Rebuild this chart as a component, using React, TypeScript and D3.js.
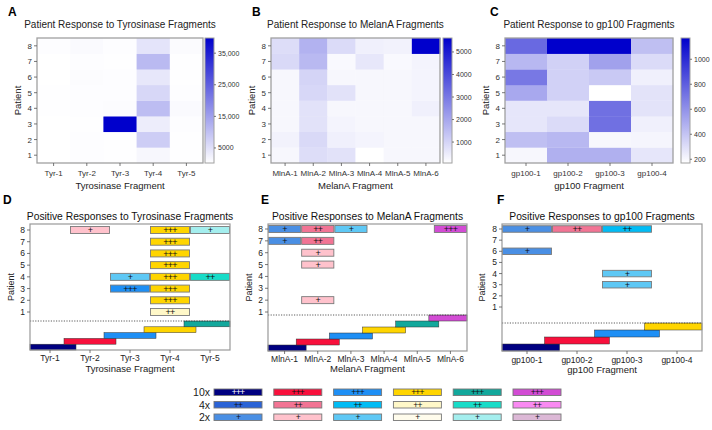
import React from "react";
import * as d3 from "d3";

const FONT = "'Liberation Sans', Arial, Helvetica, sans-serif";

const patients = [1, 2, 3, 4, 5, 6, 7, 8];
const tyrFragments = ["Tyr-1", "Tyr-2", "Tyr-3", "Tyr-4", "Tyr-5"];
const melFragments = ["MlnA-1", "MlnA-2", "MlnA-3", "MlnA-4", "MlnA-5", "MlnA-6"];
const gpFragments = ["gp100-1", "gp100-2", "gp100-3", "gp100-4"];

// Spot counts per patient (rows: patient 1 … 8), one column per fragment
const tyrResponse = [
  [300, 600, 400, 1500, 400],
  [300, 500, 400, 8000, 400],
  [300, 400, 39800, 3000, 500],
  [400, 500, 700, 10500, 1000],
  [400, 600, 500, 6500, 500],
  [300, 700, 500, 4000, 400],
  [300, 600, 400, 11000, 400],
  [500, 1000, 500, 4500, 800],
];
const melResponse = [
  [250, 800, 700, 70, 250, 250],
  [350, 900, 400, 300, 250, 250],
  [250, 700, 300, 250, 250, 250],
  [250, 700, 250, 250, 250, 400],
  [250, 950, 700, 250, 250, 300],
  [250, 1000, 250, 250, 250, 300],
  [900, 1600, 200, 600, 200, 300],
  [800, 1750, 850, 400, 350, 5620],
];
const gpResponse = [
  [200, 480, 480, 270],
  [420, 450, 200, 210],
  [270, 310, 730, 230],
  [270, 270, 730, 280],
  [510, 350, 170, 280],
  [700, 350, 380, 230],
  [450, 350, 540, 310],
  [760, 1170, 1170, 420],
];

const tyrDomain = [240, 39800];
const melDomain = [70, 5620];
const gpDomain = [170, 1170];
const tyrTicks = [5000, 15000, 25000, 35000];
const melTicks = [1000, 2000, 3000, 4000, 5000];
const gpTicks = [200, 400, 600, 800, 1000];

// Positive responses: [patient, fragment index, fold level]
const tyrPositive = [
  [8, 1, 2], [8, 3, 10], [8, 4, 2],
  [7, 3, 10], [6, 3, 10], [5, 3, 10],
  [4, 2, 2], [4, 3, 10], [4, 4, 4],
  [3, 2, 10], [3, 3, 10],
  [2, 3, 10],
  [1, 3, 4],
];
const melPositive = [
  [8, 0, 2], [8, 1, 4], [8, 2, 2], [8, 5, 10],
  [7, 0, 2], [7, 1, 4],
  [6, 1, 2], [5, 1, 2], [2, 1, 2],
];
const gpPositive = [
  [8, 0, 2], [8, 1, 4], [8, 2, 4],
  [6, 0, 2],
  [4, 2, 2], [3, 2, 2],
];

const levels = [10, 4, 2];
const levelLabels = ["10x", "4x", "2x"];
// Colour family per fragment position, shades for 10x / 4x / 2x
const fragmentPalette = [
  ["#000080", "#2b63d6", "#4a8fe4"],
  ["#f8103c", "#f27494", "#ffc2cc"],
  ["#1e8ff5", "#00bcf5", "#5ec8f5"],
  ["#ffd500", "#fff8c8", "#fffcec"],
  ["#12a89c", "#18dcc8", "#a4eeee"],
  ["#d24cd4", "#f98af2", "#dcb8d6"],
];

const plusText = (lvl: number) => (lvl >= 10 ? "+++" : lvl >= 4 ? "++" : "+");
const shade = (frag: number, lvl: number) => fragmentPalette[frag][levels.indexOf(lvl)];

const fmtTick = (v: number) => (v >= 10000 ? d3.format(",")(v) : String(v));

type HeatProps = {
  id: string;
  letter: string;
  letterX: number;
  title: string;
  xTitle: string;
  cats: string[];
  values: number[][];
  domain: number[];
  ticks: number[];
  x0: number;
  x1: number;
  cbX: number;
  yTitleX: number;
};

function Heatmap(p: HeatProps) {
  const y0 = 38;
  const y1 = 163;
  const x = d3.scaleBand<string>().domain(p.cats).range([p.x0, p.x1]);
  const y = d3.scaleBand<number>().domain([...patients].reverse()).range([y0, y1]);
  const color = d3
    .scaleLinear<string>()
    .domain(p.domain)
    .range(["#ffffff", "#0000cc"])
    .clamp(true);
  const cb = d3.scaleLinear().domain(p.domain).range([y1, y0]);
  const cbW = 9;
  const cx = (p.x0 + p.x1) / 2;
  return (
    <g>
      <text x={p.letterX} y={16} fontSize={12} fontWeight="bold" fontFamily={FONT}>
        {p.letter}
      </text>
      <text x={cx} y={28} fontSize={10} textAnchor="middle" fontFamily={FONT} fill="#222">
        {p.title}
      </text>
      {patients.map((pt, ri) =>
        p.cats.map((c, ci) => (
          <rect
            key={c + pt}
            x={x(c)}
            y={y(pt)}
            width={x.bandwidth() + 0.3}
            height={y.bandwidth() + 0.3}
            fill={color(p.values[ri][ci])}
          />
        ))
      )}
      <rect x={p.x0} y={y0} width={p.x1 - p.x0} height={y1 - y0} fill="none" stroke="#a0a0a0" strokeWidth={1.3} />
      {patients.map((pt) => (
        <g key={pt}>
          <line x1={p.x0 - 3} x2={p.x0} y1={y(pt)! + y.bandwidth() / 2} y2={y(pt)! + y.bandwidth() / 2} stroke="#555" strokeWidth={0.8} />
          <text x={p.x0 - 5} y={y(pt)! + y.bandwidth() / 2 + 3} fontSize={8} textAnchor="end" fontFamily={FONT} fill="#333">
            {pt}
          </text>
        </g>
      ))}
      {p.cats.map((c) => (
        <g key={c}>
          <line x1={x(c)! + x.bandwidth() / 2} x2={x(c)! + x.bandwidth() / 2} y1={y1} y2={y1 + 3} stroke="#555" strokeWidth={0.8} />
          <text x={x(c)! + x.bandwidth() / 2} y={176} fontSize={8} textAnchor="middle" fontFamily={FONT} fill="#333">
            {c}
          </text>
        </g>
      ))}
      <text x={cx} y={189} fontSize={9.5} textAnchor="middle" fontFamily={FONT} fill="#222">
        {p.xTitle}
      </text>
      <text
        transform={`translate(${p.yTitleX},${(y0 + y1) / 2}) rotate(-90)`}
        fontSize={9.5}
        textAnchor="middle"
        fontFamily={FONT}
        fill="#222"
      >
        Patient
      </text>
      <defs>
        <linearGradient id={p.id} x1="0" y1="1" x2="0" y2="0">
          <stop offset="0%" stopColor="#ffffff" />
          <stop offset="100%" stopColor="#0000cc" />
        </linearGradient>
      </defs>
      <rect x={p.cbX} y={y0} width={cbW} height={y1 - y0} fill={`url(#${p.id})`} stroke="#a0a0a0" strokeWidth={1} />
      {p.ticks.map((t) => (
        <g key={t}>
          <line x1={p.cbX + cbW} x2={p.cbX + cbW + 2} y1={cb(t)} y2={cb(t)} stroke="#555" strokeWidth={0.8} />
          <text x={p.cbX + cbW + 4} y={cb(t) + 2.5} fontSize={7} fontFamily={FONT} fill="#333">
            {fmtTick(t)}
          </text>
        </g>
      ))}
    </g>
  );
}

type RespProps = {
  letter: string;
  letterX: number;
  title: string;
  xTitle: string;
  cats: string[];
  positives: number[][];
  x0: number;
  x1: number;
  y1: number;
  p1y: number;
  p8y: number;
  step: number;
  barH: number;
  yTitleX: number;
  tickY: number;
  xTitleY: number;
};

function ResponsePanel(p: RespProps) {
  const y0 = 224;
  const x = d3.scaleBand<string>().domain(p.cats).range([p.x0, p.x1]);
  const y = d3.scaleLinear().domain([1, 8]).range([p.p1y, p.p8y]);
  const bw = x.bandwidth();
  const cx = (p.x0 + p.x1) / 2;
  const n = p.cats.length;
  const ladderTop = p.y1 - n * p.step;
  return (
    <g>
      <text x={p.letterX} y={204} fontSize={12} fontWeight="bold" fontFamily={FONT}>
        {p.letter}
      </text>
      <text x={cx} y={220} fontSize={10.3} textAnchor="middle" fontFamily={FONT} fill="#111">
        {p.title}
      </text>
      {p.positives.map(([pt, fi, lvl], i) => (
        <g key={i}>
          <rect
            x={x(p.cats[fi])! + 0.5}
            y={y(pt) - p.barH / 2}
            width={bw - 1}
            height={p.barH}
            fill={shade(fi, lvl)}
            stroke="#7a7a7a"
            strokeWidth={0.9}
          />
          <text
            x={x(p.cats[fi])! + bw / 2}
            y={y(pt) + 3.2}
            fontSize={9}
            letterSpacing={-0.8}
            textAnchor="middle"
            fontFamily={FONT}
            fill={fi === 0 && lvl === 10 ? "#fff" : "#111"}
          >
            {plusText(lvl)}
          </text>
        </g>
      ))}
      {p.cats.map((c, i) => {
        const mid = x(c)! + bw / 2;
        const a = Math.max(p.x0, mid - 0.65 * bw);
        const b = Math.min(p.x1, mid + 0.65 * bw);
        return (
          <rect
            key={c}
            x={a}
            y={p.y1 - (i + 1) * p.step}
            width={b - a}
            height={p.step}
            fill={fragmentPalette[i][0]}
            stroke="#333"
            strokeWidth={0.5}
          />
        );
      })}
      <line x1={p.x0} x2={p.x1} y1={ladderTop} y2={ladderTop} stroke="#333" strokeWidth={0.8} strokeDasharray="1.2,1.4" />
      <rect x={p.x0} y={y0} width={p.x1 - p.x0} height={p.y1 - y0} fill="none" stroke="#999" strokeWidth={1.2} />
      {patients.map((pt) => (
        <g key={pt}>
          <line x1={p.x0 - 3} x2={p.x0} y1={y(pt)} y2={y(pt)} stroke="#555" strokeWidth={0.8} />
          <text x={p.x0 - 5} y={y(pt) + 3} fontSize={8.5} textAnchor="end" fontFamily={FONT} fill="#222">
            {pt}
          </text>
        </g>
      ))}
      {p.cats.map((c) => (
        <g key={c}>
          <line x1={x(c)! + bw / 2} x2={x(c)! + bw / 2} y1={p.y1} y2={p.y1 + 3} stroke="#555" strokeWidth={0.8} />
          <text x={x(c)! + bw / 2} y={p.tickY} fontSize={8.5} textAnchor="middle" fontFamily={FONT} fill="#222">
            {c}
          </text>
        </g>
      ))}
      <text x={cx} y={p.xTitleY} fontSize={9.5} textAnchor="middle" fontFamily={FONT} fill="#222">
        {p.xTitle}
      </text>
      <text
        transform={`translate(${p.yTitleX},${(y0 + p.y1) / 2}) rotate(-90)`}
        fontSize={9}
        textAnchor="middle"
        fontFamily={FONT}
        fill="#222"
      >
        Patient
      </text>
    </g>
  );
}

function Legend() {
  const colX = d3.scaleLinear().domain([0, 5]).range([214, 513]);
  const rowY = d3.scaleLinear().domain([0, 2]).range([389, 414]);
  const w = 48;
  const h = 6.5;
  return (
    <g>
      {levels.map((lvl, ri) => (
        <g key={lvl}>
          <text x={210} y={rowY(ri) + h / 2 + 3.8} fontSize={10.5} textAnchor="end" fontFamily={FONT} fill="#222">
            {levelLabels[ri]}
          </text>
          {fragmentPalette.map((_, fi) => (
            <g key={fi}>
              <rect x={colX(fi)} y={rowY(ri)} width={w} height={h} fill={shade(fi, lvl)} stroke="#777" strokeWidth={0.9} />
              <text
                x={colX(fi) + w / 2}
                y={rowY(ri) + h / 2 + 3}
                fontSize={8.5}
                letterSpacing={-0.8}
                textAnchor="middle"
                fontFamily={FONT}
                fill={fi === 0 && lvl === 10 ? "#fff" : "#111"}
              >
                {plusText(lvl)}
              </text>
            </g>
          ))}
        </g>
      ))}
    </g>
  );
}

export default function App() {
  return (
    <svg
      width={712}
      height={430}
      viewBox="0 0 712 430"
      style={{ position: "absolute", left: 0, top: 0, background: "#fff" }}
    >
      <rect width={712} height={430} fill="#fff" />
      <Heatmap
        id="gradA"
        letter="A"
        letterX={8}
        title="Patient Response to Tyrosinase Fragments"
        xTitle="Tyrosinase Fragment"
        cats={tyrFragments}
        values={tyrResponse}
        domain={tyrDomain}
        ticks={tyrTicks}
        x0={37}
        x1={203}
        cbX={205}
        yTitleX={21}
      />
      <Heatmap
        id="gradB"
        letter="B"
        letterX={252}
        title="Patient Response to MelanA Fragments"
        xTitle="MelanA Fragment"
        cats={melFragments}
        values={melResponse}
        domain={melDomain}
        ticks={melTicks}
        x0={271}
        x1={440}
        cbX={443}
        yTitleX={255}
      />
      <Heatmap
        id="gradC"
        letter="C"
        letterX={490}
        title="Patient Response to gp100 Fragments"
        xTitle="gp100 Fragment"
        cats={gpFragments}
        values={gpResponse}
        domain={gpDomain}
        ticks={gpTicks}
        x0={505}
        x1={673}
        cbX={681}
        yTitleX={489}
      />
      <ResponsePanel
        letter="D"
        letterX={3}
        title="Positive Responses to Tyrosinase Fragments"
        xTitle="Tyrosinase Fragment"
        cats={tyrFragments}
        positives={tyrPositive}
        x0={30}
        x1={230}
        y1={350}
        p1y={312}
        p8y={230}
        step={5.8}
        barH={7}
        yTitleX={14}
        tickY={361}
        xTitleY={372}
      />
      <ResponsePanel
        letter="E"
        letterX={261}
        title="Positive Responses to MelanA Fragments"
        xTitle="MelanA Fragment"
        cats={melFragments}
        positives={melPositive}
        x0={268}
        x1={467}
        y1={351}
        p1y={312}
        p8y={229}
        step={6}
        barH={7}
        yTitleX={252}
        tickY={362}
        xTitleY={372}
      />
      <ResponsePanel
        letter="F"
        letterX={497}
        title="Positive Responses to gp100 Fragments"
        xTitle="gp100 Fragment"
        cats={gpFragments}
        positives={gpPositive}
        x0={502}
        x1={702}
        y1={351}
        p1y={307}
        p8y={229}
        step={7}
        barH={6.5}
        yTitleX={485}
        tickY={363}
        xTitleY={373}
      />
      <Legend />
    </svg>
  );
}
